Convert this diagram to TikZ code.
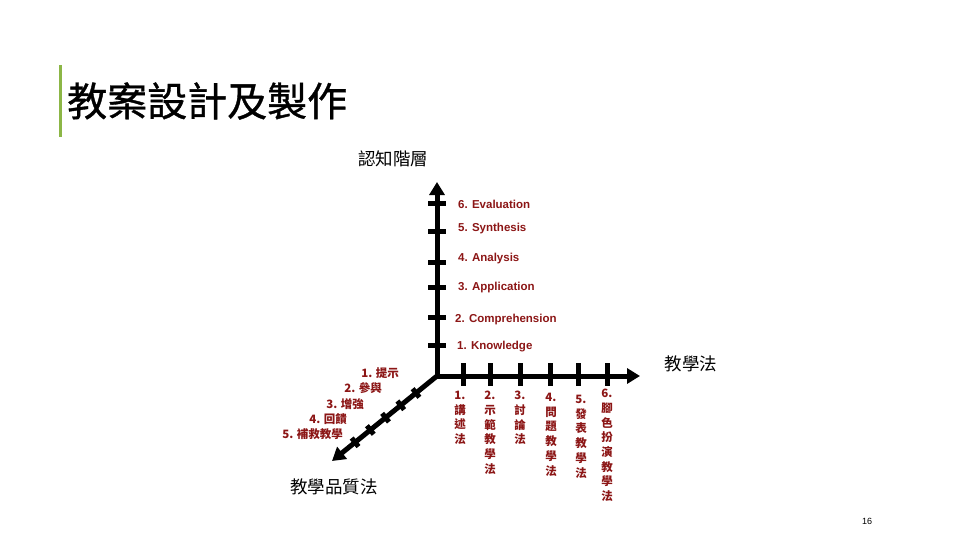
\documentclass[tikz,border=0pt]{standalone}
\usepackage{fontspec}
\setmainfont{Liberation Sans}
\newfontfamily\cjk{Noto Sans CJK TC}
\newfontfamily\cjktitle[FakeBold=0.9]{Noto Sans CJK TC}
\usetikzlibrary{arrows.meta,calc}
\definecolor{lbl}{RGB}{140,22,22}
\definecolor{barg}{RGB}{140,182,70}
\begin{document}
\begin{tikzpicture}[x=1pt,y=-1pt,
  axis/.style={line width=5pt,-{Triangle[width=15pt,length=13pt]}},
  tickmark/.style={line width=5pt},
  lvl/.style={text=lbl,font=\bfseries\fontsize{11.5}{13}\selectfont,anchor=west,inner sep=0pt},
  diag/.style={text=lbl,font=\cjk\bfseries\fontsize{11.5}{13}\selectfont,anchor=east,inner sep=0pt},
  col/.style={text=lbl,font=\cjk\bfseries\fontsize{11.5}{14.7}\selectfont,anchor=north,align=center,inner sep=0pt},
  axcap/.style={font=\cjk\fontsize{17.5}{20}\selectfont,inner sep=0pt}]
\useasboundingbox[fill=white] (0,0) rectangle (960,540);
% title
\fill[barg] (59,65) rectangle (62,137);
\node[font=\cjktitle\fontsize{40}{44}\selectfont,anchor=west,inner sep=0pt] (title) at (67,101) {教案設計及製作};
% axes
\coordinate (O) at (437,376);
\coordinate (V) at (437,182);
\coordinate (H) at (640,376);
\coordinate (D) at (332,461);
\draw[axis] (O) -- (V);
\draw[axis] (O) -- (H);
\draw[axis] (O) -- (D);
% ticks on vertical axis
\foreach \y in {203,231,262,287,317,345}
  \draw[tickmark] (428,\y) -- (446,\y);
% ticks on horizontal axis
\foreach \x in {463,490,520,550,578,607}
  \draw[tickmark] (\x,363) -- (\x,386);
% ticks on diagonal axis
\foreach \f in {0.2,0.345,0.49,0.635,0.78}
  \draw[tickmark] ($(O)!\f!(D)+(3.4,4.3)$) -- ($(O)!\f!(D)-(3.4,4.3)$);
% vertical labels
\node[lvl] (l6) at (458,204) {6. Evaluation};
\node[lvl] (l5) at (458,229) {5. Synthesis};
\node[lvl] (l4) at (458,259) {4. Analysis};
\node[lvl] (l3) at (458,288) {3. Application};
\node[lvl] (l2) at (455,320) {2. Comprehension};
\node[lvl] (l1) at (457,347) {1. Knowledge};
% diagonal labels
\node[diag] (d1) at (399,373) {1. 提示};
\node[diag] (d2) at (382,388) {2. 參與};
\node[diag] (d3) at (364,404) {3. 增強};
\node[diag] (d4) at (347,419) {4. 回饋};
\node[diag] (d5) at (343,434) {5. 補救教學};
% horizontal labels
\node[col] (h1) at (460,391) {1.\\講\\述\\法};
\node[col] (h2) at (490,391) {2.\\示\\範\\教\\學\\法};
\node[col] (h3) at (520,391) {3.\\討\\論\\法};
\node[col] (h4) at (551,393) {4.\\問\\題\\教\\學\\法};
\node[col] (h5) at (581,395) {5.\\發\\表\\教\\學\\法};
\node[col] (h6) at (607,389) {6.\\腳\\色\\扮\\演\\教\\學\\法};
% axis captions
\node[axcap] (cv) at (393,159) {認知階層};
\node[axcap] (ch) at (691,364) {教學法};
\node[axcap] (cd) at (334,487) {教學品質法};
% page number
\node[font=\fontsize{9}{10}\selectfont,inner sep=0pt] (pg) at (867,521) {16};
\end{tikzpicture}
\end{document}
